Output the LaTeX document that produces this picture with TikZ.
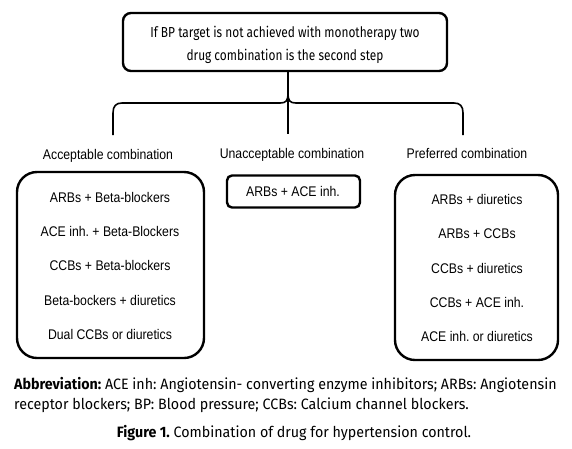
\documentclass[tikz,border=0pt]{standalone}
\usepackage{fontspec}
\setmainfont{Liberation Sans}[FakeStretch=0.875]
\newfontfamily\topfont{Fira Sans}[FakeStretch=0.82]
\newfontfamily\capfont{Fira Sans}[FakeStretch=0.95]
\frenchspacing
\begin{document}
\begin{tikzpicture}[x=1pt,y=-1pt,
  line/.style={line width=2.4pt, black},
  boxs/.style={draw, line width=2.4pt, inner sep=0pt},
  item/.style={font=\fontsize{14}{16}\selectfont, inner sep=0pt, anchor=base},
  lab/.style={font=\fontsize{14}{16}\selectfont, inner sep=0pt, anchor=base},
  toptext/.style={font=\topfont\fontsize{14.5}{16}\selectfont, inner sep=0pt, anchor=base},
  captext/.style={font=\capfont\fontsize{15}{17}\selectfont, inner sep=0pt, anchor=base west}]
\path[use as bounding box] (0,0) rectangle (572,448);
% top box
\node[boxs, rounded corners=8pt, minimum width=324pt, minimum height=58pt] (top) at (285,42) {};
\node[toptext] (t1) at (285,37) {If BP target is not achieved with monotherapy two};
\node[toptext] (t2) at (285,60) {drug combination is the second step};
% brace
\coordinate (tip) at (288,93);
\coordinate (bl) at (113,135);
\coordinate (br) at (463,135);
\coordinate (bc) at (288,134);
\draw[line] (top.south -| tip) -- (tip) -- (bc);
\draw[line, line width=1.6pt] (tip) .. controls (288,101) and (286,103) .. (280,103) -- (122,103)
  .. controls (116,103) and (113,106) .. (113,113) -- (bl);
\draw[line, line width=1.6pt] (tip) .. controls (288,101) and (290,103) .. (296,103) -- (454,103)
  .. controls (460,103) and (463,106) .. (463,113) -- (br);
% labels
\node[lab] (la) at (108,159) {Acceptable combination};
\node[lab] (lu) at (292,158) {Unacceptable combination};
\node[lab] (lp) at (467,158) {Preferred combination};
% acceptable
\node[boxs, rounded corners=20pt, minimum width=187pt, minimum height=186pt] (acc) at (110.5,265) {};
\node[item] (a1) at (110,202) {ARBs + Beta-blockers};
\node[item] (a2) at (110,236) {ACE inh. + Beta-Blockers};
\node[item] (a3) at (110,270) {CCBs + Beta-blockers};
\node[item] (a4) at (110,305) {Beta-bockers + diuretics};
\node[item] (a5) at (110,339) {Dual CCBs or diuretics};
% unacceptable
\node[boxs, rounded corners=5pt, minimum width=133pt, minimum height=32pt] (un) at (293.5,191.5) {};
\node[item] (u1) at (293,196) {ARBs + ACE inh.};
% preferred
\node[boxs, rounded corners=20pt, minimum width=163pt, minimum height=185pt] (pre) at (476.5,267.5) {};
\node[item] (p1) at (477,204) {ARBs + diuretics};
\node[item] (p2) at (477,238) {ARBs + CCBs};
\node[item] (p3) at (477,273) {CCBs + diuretics};
\node[item] (p4) at (477,307) {CCBs + ACE inh.};
\node[item] (p5) at (477,341) {ACE inh. or diuretics};
% caption
\node[captext] (ab1) at (14,389) {\textbf{Abbreviation:} ACE inh: Angiotensin- converting enzyme inhibitors; ARBs: Angiotensin};
\node[captext] (ab2) at (14,409) {receptor blockers; BP: Blood pressure; CCBs: Calcium channel blockers.};
\node[captext, anchor=base] (fig) at (294,437) {\textbf{Figure 1.} Combination of drug for hypertension control.};
\end{tikzpicture}
\end{document}
